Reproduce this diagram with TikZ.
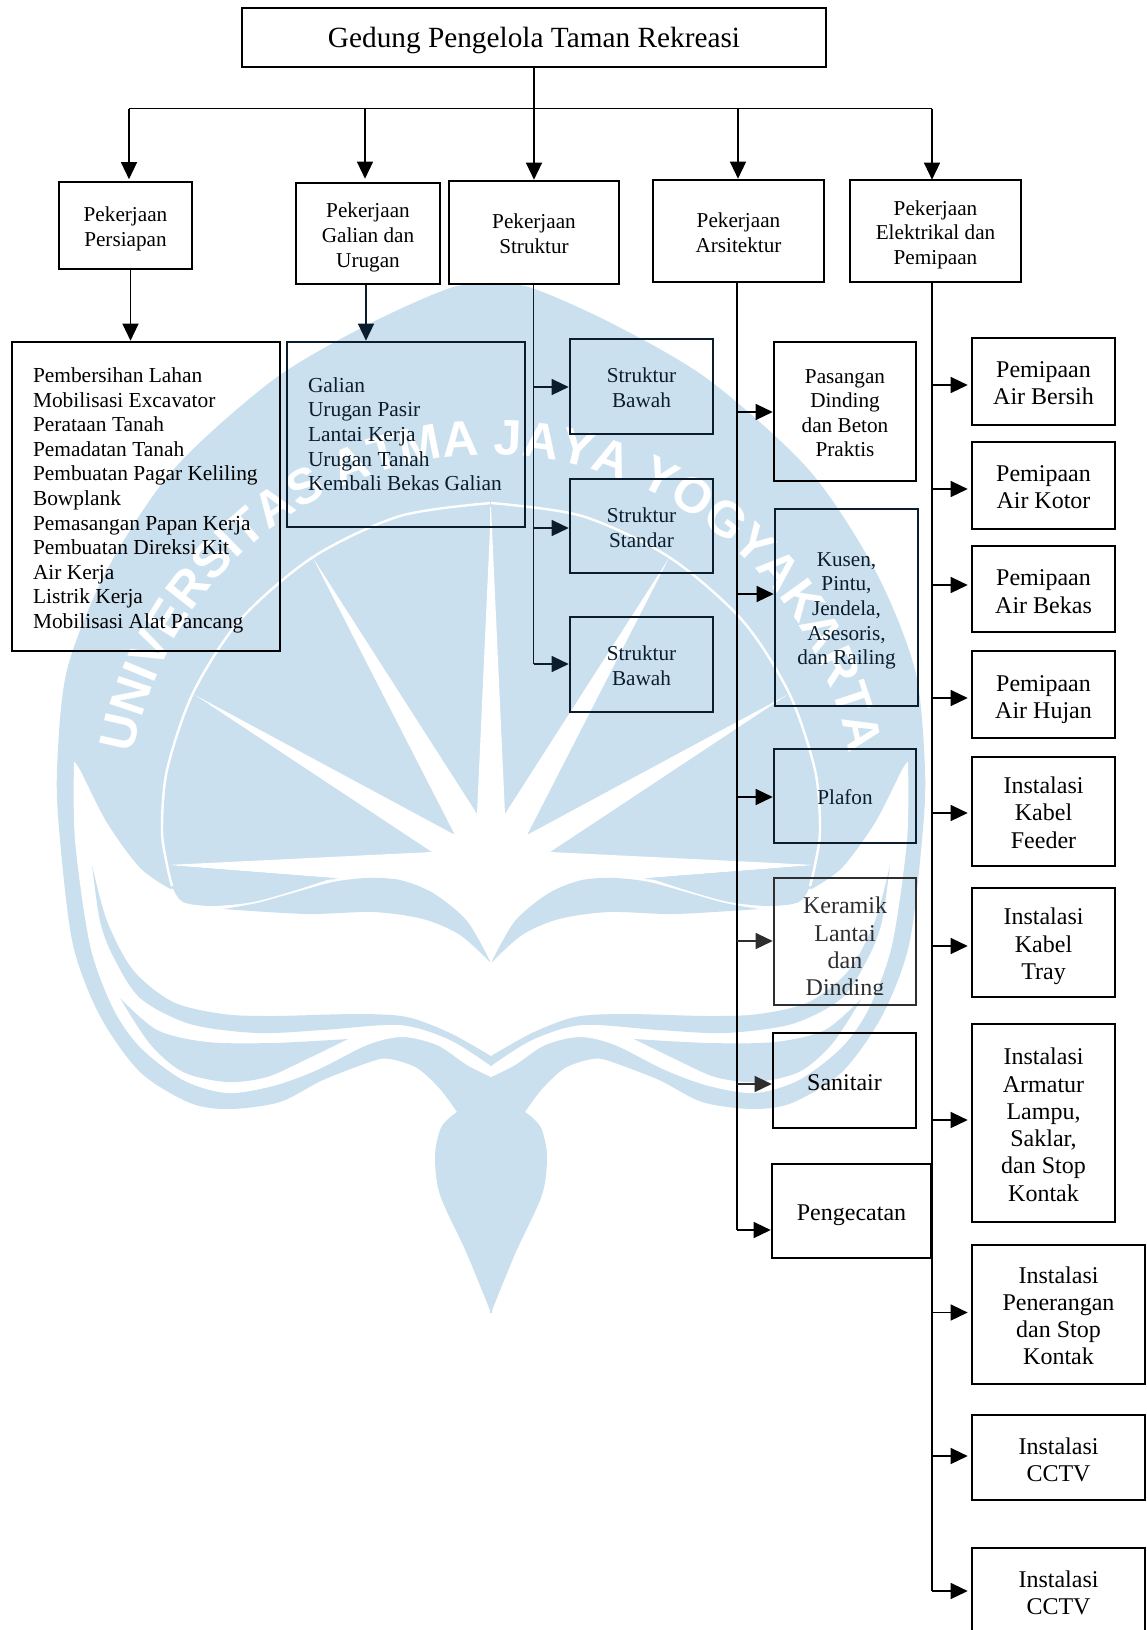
\documentclass[tikz,border=0pt]{standalone}
\usepackage{fontspec}
\setmainfont{Liberation Serif}
\newfontfamily\wmfont{Liberation Sans}[BoldFont={Liberation Sans Bold}]
\usetikzlibrary{arrows.meta,decorations.text}
\definecolor{wmblue}{HTML}{CBE0EE}
\definecolor{inkblue}{HTML}{0B1D2C}
\definecolor{softink}{HTML}{2E2E2E}
\tikzset{
  boxn/.style={draw=black,line width=2.6pt,inner sep=1pt,font=\fontsize{21.2}{24.6}\selectfont},
  big/.style={font=\fontsize{24}{27.3}\selectfont},
  listf/.style={font=\fontsize{21.4}{24.6}\selectfont},
  title/.style={font=\fontsize{29.3}{33}\selectfont},
  inky/.style={draw=inkblue,text=inkblue},
  ln/.style={draw=black,line width=1.3pt},
  arr/.style={ln,-{Triangle[length=17pt,width=16pt]}},
  wmfill/.style={fill=wmblue,draw=none},
  wmhole/.style={fill=white,draw=none}
}
% text block lowered by #1 inside its box: the kern above it is twice that
\newcommand\tabc[2]{\vbox{\kern\dimexpr#1pt+#1pt\relax\hbox{\begin{tabular}{@{}c@{}}#2\end{tabular}}}}
\newcommand\tabl[3]{\vbox{\kern\dimexpr#1pt+#1pt\relax\hbox to #2pt{\begin{tabular}{@{}l@{}}#3\end{tabular}\hss}}}
\newcommand\bxn[8][]{%
  \pgfmathsetmacro\bxw{#5-#3}\pgfmathsetmacro\bxh{#6-#4}%
  \node[boxn,minimum width=\bxw,minimum height=\bxh,#1] (#2) at ({(#3+#5)/2},{(#4+#6)/2}) {\tabc{#7}{#8}};}
\newcommand\bxl[9][]{%
  \pgfmathsetmacro\bxw{#5-#3}\pgfmathsetmacro\bxh{#6-#4}%
  \node[boxn,listf,minimum width=\bxw,minimum height=\bxh,#1] (#2) at ({(#3+#5)/2},{(#4+#6)/2}) {\tabl{#7}{#8}{#9}};}
\newcommand\wmhalf{%
  \fill[wmfill] plot[smooth] coordinates {(492,283)(450,288)(367,325)(273,380)(173,470)(107,570)(67,670)(57,770)(60,840)(73,945)(100,1016)(140,1072)(190,1103)(230,1109)(280,1102)(323,1080)(373,1061)(390,1059)(417,1068)(440,1089)(457,1112)}
    -- plot[smooth] coordinates {(457,1112)(448,1119)(440,1130)(435,1156)(440,1195)(467,1254)(491,1313)} -- (492,1313) -- cycle;
  \fill[wmhole] plot[smooth] coordinates {(74,762)(75,840)(90,945)(113,1008)(140,1047)(183,1080)(227,1093)(273,1086)(317,1070)(367,1045)(402,1037)(437,1045)(467,1065)(491,1077)}
    -- (492,1077) -- (492,870) -- (170,889) -- plot[smooth] coordinates {(170,889)(140,868)(107,823)(80,770)(74,762)} -- cycle;
  \fill[wmhole] (492,507) -- (491,507) -- (477,814) -- (313,558) -- (455,835) -- (195,695) -- (432,852) -- (167,865) -- (333,878) -- (492,900) -- cycle;
  \fill[wmfill] (167,865) -- (333,878) -- plot[smooth] coordinates {(333,878)(293,891)(253,902)(213,906)(183,902)(172,886)(167,865)} -- cycle;
  \fill[wmfill] plot[smooth] coordinates {(491,963)(467,921)(433,893)(400,880)(367,878)(333,882)(293,893)(257,903)(223,909)}
    -- plot[smooth] coordinates {(223,909)(307,914)(373,912)(423,919)(460,935)(491,963)} -- cycle;
  \fill[wmfill] plot[smooth] coordinates {(92,865)(107,921)(133,970)(173,1002)(223,1014)(273,1016)(357,1014)(407,1017)(450,1033)(491,1056)}
    -- (492,1056) -- (492,1066) -- plot[smooth] coordinates {(491,1066)(450,1040)(400,1025)(323,1030)(257,1033)(190,1024)(140,998)(113,956)(100,921)(92,865)} -- cycle;
  \fill[wmfill] plot[smooth] coordinates {(120,998)(157,1030)(207,1042)(273,1043)(348,1039)}
    -- plot[smooth] coordinates {(348,1039)(307,1059)(267,1077)(227,1082)(183,1072)(150,1044)(120,998)} -- cycle;
  \draw[white,line width=2.4pt] plot[smooth] coordinates {(491,503)(400,516)(313,557)(240,620)(193,693)(167,770)(162,830)(167,865)(172,886)};
}
\begin{document}
\begin{tikzpicture}[x=1pt,y=-1pt]
\path[use as bounding box] (0,0) rectangle (1146,1630);
\clip (0,0) rectangle (1146,1630);
% watermark
\wmhalf
\begin{scope}[shift={(982,0)},xscale=-1]
\wmhalf
\end{scope}
\path[decorate,decoration={text along path,text align=center,
  text={|\wmfont\bfseries\fontsize{50}{50}\selectfont\color{white}|UNIVERSITAS ATMA JAYA YOGYAKARTA}}]
  plot[domain=176:4,samples=90] ({491+364*cos(\x)},{819-364*sin(\x)});
% top levels
\bxn[title]{root}{242}{8}{826}{67}{3}{Gedung Pengelola Taman Rekreasi}
\bxn{persiapan}{59}{182}{192}{269}{3.3}{Pekerjaan\\Persiapan}
\bxn{galian}{296}{183}{440}{284}{4}{Pekerjaan\\Galian dan\\Urugan}
\bxn{struktur}{449}{181}{619}{284}{3.5}{Pekerjaan\\Struktur}
\bxn{arsitektur}{653}{180}{824}{282}{4}{Pekerjaan\\Arsitektur}
\bxn{elektrikal}{850}{180}{1021}{282}{3.8}{Pekerjaan\\Elektrikal dan\\Pemipaan}
% lists
\bxl{listA}{12}{342}{280}{651}{4}{226}{Pembersihan Lahan\\Mobilisasi Excavator\\Perataan Tanah\\Pemadatan Tanah\\Pembuatan Pagar Keliling\\Bowplank\\Pemasangan Papan Kerja\\Pembuatan Direksi Kit\\Air Kerja\\Listrik Kerja\\Mobilisasi Alat Pancang}
\bxl[inky]{listB}{287}{342}{525}{527}{2}{196}{Galian\\Urugan Pasir\\Lantai Kerja\\Urugan Tanah\\Kembali Bekas Galian}
% struktur
\bxn[inky]{sa}{570}{339}{713}{434}{3.5}{Struktur\\Bawah}
\bxn[inky]{sb}{570}{479}{713}{573}{4}{Struktur\\Standar}
\bxn[inky]{sc}{570}{617}{713}{712}{3.5}{Struktur\\Bawah}
% arsitektur
\bxn{aa}{774}{342}{916}{481}{3.5}{Pasangan\\Dinding\\dan Beton\\Praktis}
\bxn[inky]{ab}{775}{509}{918}{706}{3}{Kusen,\\Pintu,\\Jendela,\\Asesoris,\\dan Railing}
\bxn[inky]{ac}{774}{749}{916}{843}{4}{Plafon}
\bxn[draw=softink]{ad}{774}{878}{916}{1005}{0}{}
\begin{scope}
\clip (760,860) rectangle (930,994);
\node[big,align=center,text=softink,inner sep=0pt] (adtext) at (845,949) {Keramik\\Lantai\\dan\\Dinding};
\end{scope}
\bxn[big]{ae}{773}{1033}{916}{1128}{5}{Sanitair}
\bxn[big]{af}{772}{1164}{931}{1258}{4}{Pengecatan}
% elektrikal
\bxn[big]{ea}{972}{338}{1115}{425}{4}{Pemipaan\\Air Bersih}
\bxn[big]{eb}{972}{442}{1115}{529}{4}{Pemipaan\\Air Kotor}
\bxn[big]{ec}{972}{546}{1115}{632}{5}{Pemipaan\\Air Bekas}
\bxn[big]{ed}{972}{651}{1115}{738}{4.8}{Pemipaan\\Air Hujan}
\bxn[big]{ee}{972}{757}{1115}{866}{4}{Instalasi\\Kabel\\Feeder}
\bxn[big]{ef}{972}{888}{1115}{997}{4.3}{Instalasi\\Kabel\\Tray}
\bxn[big]{eg}{972}{1024}{1115}{1222}{4.5}{Instalasi\\Armatur\\Lampu,\\Saklar,\\dan Stop\\Kontak}
\bxn[big]{eh}{972}{1245}{1145}{1384}{4}{Instalasi\\Penerangan\\dan Stop\\Kontak}
\bxn[big]{ei}{972}{1415}{1145}{1500}{5}{Instalasi\\CCTV}
\bxn[big]{ej}{972}{1548}{1145}{1640}{1.5}{Instalasi\\CCTV}
% bus coordinates
\coordinate (busA) at (129,108.5);
\coordinate (busB) at (365,108.5);
\coordinate (busD) at (738,108.5);
\coordinate (busE) at (932,108.5);
\draw[ln] (busA) -- (busE);
\draw[arr,shorten >=1.5pt] (busA) -- (busA |- persiapan.north);
\draw[arr,shorten >=3pt] (busB) -- (busB |- galian.north);
\draw[arr] (root.south) -- (struktur.north);
\draw[arr] (busD) -- (busD |- arsitektur.north);
\draw[arr,shorten >=-1pt] (busE) -- (busE |- elektrikal.north);
\draw[arr] (persiapan.south -| busA) ++(1.5,0) coordinate (pa) -- (pa |- listA.north);
\draw[arr,draw=inkblue,fill=inkblue] (busB |- galian.south) ++(1,0) coordinate (ga) -- (ga |- listB.north);
% struktur trunk
\coordinate (ts1) at (533.7,387);
\coordinate (ts2) at (533.7,528);
\coordinate (ts3) at (533.7,664);
\draw[ln,draw=inkblue] (struktur.south -| ts3) -- (ts3);
\foreach \c/\b in {ts1/sa,ts2/sb,ts3/sc}{
  \draw[arr,draw=inkblue,fill=inkblue] (\c) -- (\c -| \b.west);
}
% arsitektur trunk
\coordinate (ta1) at (737,412);
\coordinate (ta2) at (737,594);
\coordinate (ta3) at (737,797);
\coordinate (ta4) at (737,941);
\coordinate (ta5) at (737,1084);
\coordinate (ta6) at (737,1230);
\draw[ln] (arsitektur.south -| ta6) -- (ta6);
\foreach \c/\b in {ta1/aa,ta2/ab,ta3/ac,ta6/af}{
  \draw[arr] (\c) -- (\c -| \b.west);
}
\draw[arr,draw=softink,fill=softink] (ta4) -- (ta4 -| ad.west);
\draw[arr,draw=softink,fill=softink] (ta5) -- (ta5 -| ae.west);
% elektrikal trunk
\coordinate (te1) at (932,385);
\coordinate (te2) at (932,489);
\coordinate (te3) at (932,585);
\coordinate (te4) at (932,698);
\coordinate (te5) at (932,813);
\coordinate (te6) at (932,946);
\coordinate (te7) at (932,1120);
\coordinate (te8) at (932,1312.5);
\coordinate (te9) at (932,1456);
\coordinate (te10) at (932,1591);
\draw[ln] (elektrikal.south -| te10) -- (te10);
\foreach \c/\b in {te1/ea,te2/eb,te3/ec,te4/ed,te5/ee,te6/ef,te7/eg,te8/eh,te9/ei,te10/ej}{
  \draw[arr,shorten >=3pt] (\c) -- (\c -| \b.west);
}
\end{tikzpicture}
\end{document}
